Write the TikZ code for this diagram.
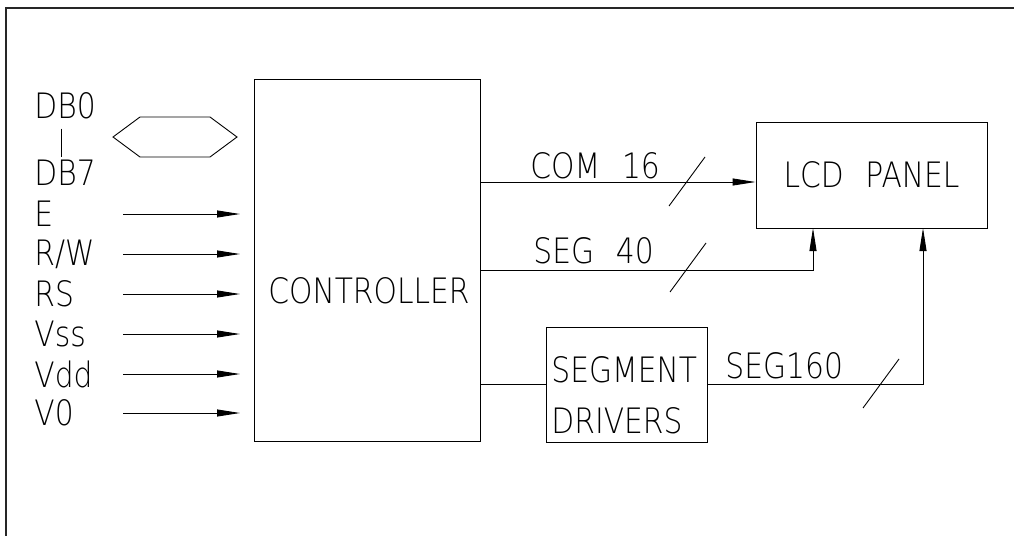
\documentclass[tikz,border=0pt]{standalone}
\usepackage{fontspec}
\setmainfont{DejaVu Sans ExtraLight}[FakeStretch=0.85, WordSpace=2.3]
\usepackage{tikz}
\usetikzlibrary{arrows.meta}

\begin{document}
\begin{tikzpicture}[
    x=1pt, y=-1pt,
    font=\fontsize{35}{51}\selectfont,
    line width=0.9pt,
    frame_line/.style={line width=1.5pt, black!85},
    block_box/.style={draw, inner sep=0pt},
    pin_label/.style={anchor=west, inner sep=0pt},
    sig_arrow/.style={-{Triangle[length=23pt, width=7pt]}},
    bus_mark/.style={line width=0.9pt}
]
    \useasboundingbox (0,0) rectangle (1014,536);

    % 1. SHEET FRAME
    \draw[frame_line] (1014,8) -- (6,8) -- (6,536);

    % 2. BLOCKS
    \node[block_box, minimum width=226pt, minimum height=362pt] (ctrl) at (367,260) {};
    \node[inner sep=0pt] (ctrllabel) at (369,291) {CONTROLLER};
    \node[block_box, minimum width=231pt, minimum height=106pt] (lcd) at (871.5,175) {LCD PANEL};
    \node[block_box, minimum width=161pt, minimum height=115pt] (segdrv) at (626.5,384.5) {};
    \node[anchor=north west, align=left, inner sep=0pt] (segtxt) at (551,356) {SEGMENT\\DRIVERS};

    % 3. DATA BUS
    \node[pin_label] (db0) at (34,106) {DB0};
    \node[pin_label] (db7) at (34,173) {DB7};
    \draw (db0.south) ++(-4,9) -- ++(0,28);
    \draw (113,137) -- (140,117) -- (210,117) -- (237,137) -- (210,157) -- (140,157) -- cycle;

    % 4. CONTROL AND SUPPLY INPUTS
    \foreach \name/\txt/\y in {e/E/214, rw/{R/W}/254, rs/RS/294, vss/Vss/334, vdd/Vdd/374, vo/V0/413} {
        \node[pin_label] (\name) at (34,\y) {\txt};
        \coordinate (\name-a) at (123,\y);
        \coordinate (\name-b) at (240,\y);
        \draw[sig_arrow] (\name-a) -- (\name-b);
    }

    % 5. OUTPUTS
    \coordinate (comout) at (480,182);
    \coordinate (segout) at (480,270);
    \coordinate (seg40in) at (813,228);
    \coordinate (seg160in) at (923,228);
    \draw[sig_arrow] (comout) -- (comout -| lcd.west);
    \draw[sig_arrow] (segout) -| (seg40in);
    \draw (segdrv.west -| ctrl.east) -- (segdrv.west);
    \draw[sig_arrow] (segdrv.east) -| (seg160in);

    \node[anchor=base west, inner sep=0pt] (comlabel) at (530,178) {COM 16};
    \node[anchor=base west, inner sep=0pt] (seglabel) at (533,263) {SEG 40};
    \node[anchor=base west, inner sep=0pt] (seg160label) at (725,378) {SEG160};

    % 6. BUS WIDTH MARKS
    \foreach \x/\y in {687/182, 688/268, 881/384} {
        \draw[bus_mark] (\x,\y) ++(-18,24) -- ++(36,-49);
    }

\end{tikzpicture}
\end{document}
